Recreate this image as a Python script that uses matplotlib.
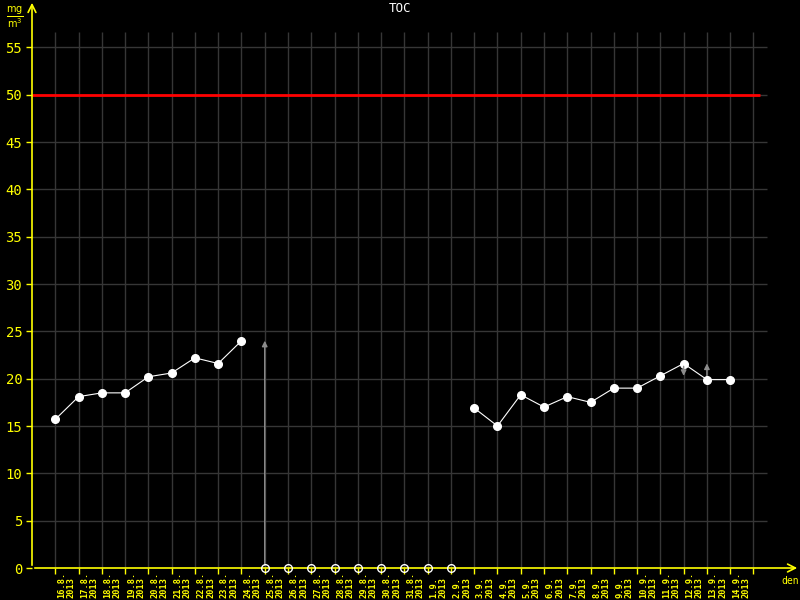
import matplotlib.pyplot as plt
import matplotlib.transforms as mtransforms

# dates 16.8.2013 - 14.9.2013
dates = ['16.8.', '17.8.', '18.8.', '19.8.', '20.8.', '21.8.', '22.8.', '23.8.',
         '24.8.', '25.8.', '26.8.', '27.8.', '28.8.', '29.8.', '30.8.', '31.8.',
         '1.9.', '2.9.', '3.9.', '4.9.', '5.9.', '6.9.', '7.9.', '8.9.', '9.9.',
         '10.9.', '11.9.', '12.9.', '13.9.', '14.9.']
year = '2013'

# TOC values (mg/m3), None = no measurement
toc_aug = [15.7, 18.1, 18.5, 18.5, 20.2, 20.6, 22.2, 21.6, 24.0]
toc_sep = [16.9, 15.0, 18.3, 17.0, 18.1, 17.5, 19.0, 19.0, 20.3, 21.6, 19.9, 19.9]
missing_idx = [9, 10, 11, 12, 13, 14, 15, 16, 17]
limit = 50

bg = 'black'
yellow = '#ffff00'
gridc = '#363636'
arrowc = '#8c8c8c'

fig = plt.figure(figsize=(8, 6), dpi=100, facecolor=bg)
ax = fig.add_axes([32 / 800, 32 / 600, 768 / 800, 568 / 600])
ax.set_facecolor(bg)
ax.set_xlim(-1, 32)
ax.set_ylim(0, 60)
for s in ax.spines.values():
    s.set_visible(False)

n = len(dates)
xs = list(range(n))

# grid
ax.vlines(xs + [n], 0, 56.6, color=gridc, lw=1, zorder=1)
ax.hlines(range(5, 60, 5), -1, 30.6, color=gridc, lw=1, zorder=1)

# limit line
ax.hlines(limit, -1, 30.3, color='#ff0000', lw=2, zorder=3)

# axes lines with arrows
ax.annotate('', xy=(-1, 60), xytext=(-1, 0),
            arrowprops=dict(arrowstyle='->', color=yellow, lw=1.2, mutation_scale=14),
            zorder=5, annotation_clip=False)
ax.annotate('', xy=(32, 0), xytext=(-1, 0),
            arrowprops=dict(arrowstyle='->', color=yellow, lw=1.2, mutation_scale=14),
            zorder=5, annotation_clip=False)

# ticks
ax.set_xticks(xs + [n])
ax.set_xticklabels([])
ax.set_yticks(range(0, 60, 5))
ax.tick_params(axis='x', colors=yellow, length=4, width=1, direction='out')
ax.tick_params(axis='y', colors=yellow, length=4, width=1, direction='out',
               labelsize=10, pad=3)
for lab in ax.get_yticklabels():
    lab.set_family('DejaVu Sans Mono')
    lab.set_color(yellow)

# date labels
tr = mtransforms.blended_transform_factory(ax.transData, fig.transFigure)
for i, d in enumerate(dates):
    ax.text(i + 0.47, 0.003, d + '\n' + year, transform=tr, rotation=90,
            ha='center', va='bottom', multialignment='left', color=yellow,
            fontsize=6.2, family='DejaVu Sans Mono', weight='bold', linespacing=1.05)

# data lines
ax.plot(xs[:9], toc_aug, color='white', lw=0.8,
        marker='o', ms=5.5, mfc='white', mec='white', zorder=6)
ax.plot(xs[18:], toc_sep, color='white', lw=0.8,
        marker='o', ms=5.5, mfc='white', mec='white', zorder=6)

# missing measurements
ax.plot(missing_idx, [0] * len(missing_idx), ls='none', marker='o', ms=5.5,
        mfc='none', mec='white', mew=1, zorder=7, clip_on=False)

# gray arrows
ax.annotate('', xy=(9, 24.3), xytext=(9, 0),
            arrowprops=dict(arrowstyle='-|>', color=arrowc, lw=1, mutation_scale=8), zorder=4)
ax.annotate('', xy=(27, 20.0), xytext=(27, 21.6),
            arrowprops=dict(arrowstyle='-|>', color=arrowc, lw=1, mutation_scale=8), zorder=7)
ax.annotate('', xy=(28, 21.9), xytext=(28, 19.9),
            arrowprops=dict(arrowstyle='-|>', color=arrowc, lw=1, mutation_scale=8), zorder=5)

# texts
fig.text(0.5, 0.985, 'TOC', ha='center', va='center', color='white',
         fontsize=9, family='DejaVu Sans Mono')
fig.text(0.008, 0.992, r'$\frac{\mathrm{mg}}{\mathrm{m}^3}$', ha='left', va='top',
         color=yellow, fontsize=10)
fig.text(0.988, 0.032, 'den', ha='center', va='center', color=yellow,
         fontsize=7, family='DejaVu Sans Mono')

fig.savefig('out.png', dpi=100, facecolor=bg)
